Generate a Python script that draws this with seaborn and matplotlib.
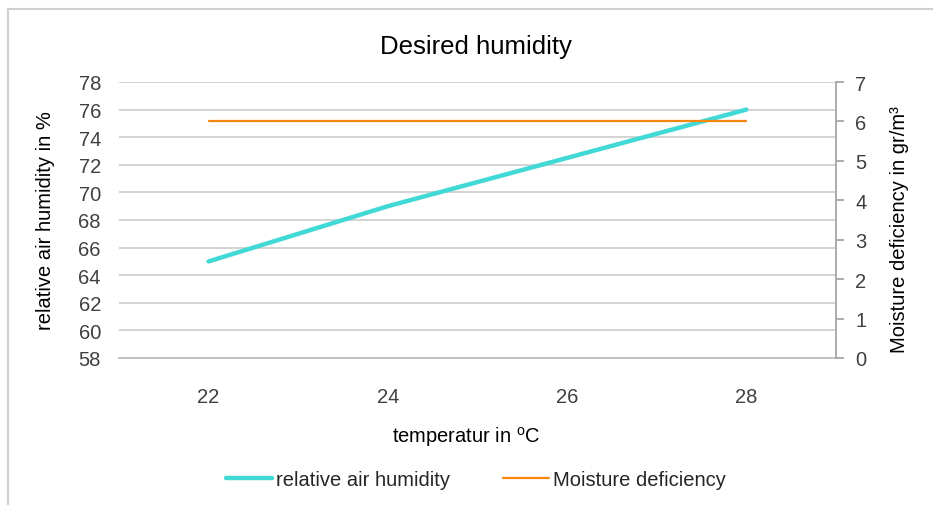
import pandas as pd
import matplotlib.pyplot as plt
import seaborn as sns
from matplotlib.patches import Rectangle
from matplotlib.lines import Line2D

# values
temperature = [22, 24, 26, 28]
humidity = [65, 69, 72.5, 76]
deficiency = [6, 6, 6, 6]
hum_ticks = list(range(58, 80, 2))
def_ticks = list(range(0, 8))

teal = '#40D9D6'
orange = '#F7860F'
grid_grey = '#D0D0D0'
text_grey = '#404040'
fs = 14.5

sns.set_theme(style='white')
plt.rcParams['font.family'] = ['Liberation Sans', 'DejaVu Sans']
plt.rcParams['mathtext.fontset'] = 'custom'
plt.rcParams['mathtext.rm'] = 'Liberation Sans'
plt.rcParams['mathtext.it'] = 'Liberation Sans:italic'

df = pd.DataFrame({'pos': range(len(temperature)),
                   'temperature': temperature,
                   'humidity': humidity,
                   'deficiency': deficiency})

fig = plt.figure(figsize=(9.33, 5.06), dpi=100)
ax = fig.add_axes([119/933, 1 - 359/506, 717/933, 276/506])
ax2 = ax.twinx()

sns.lineplot(data=df, x='pos', y='humidity', ax=ax, color=teal, linewidth=3.2,
             solid_capstyle='round')
sns.lineplot(data=df, x='pos', y='deficiency', ax=ax2, color=orange, linewidth=1.6)

# left axis
ax.set_ylim(58, 78)
ax.set_yticks(hum_ticks)
ax.tick_params(axis='y', length=0, pad=13, labelsize=fs, labelcolor=text_grey)
ax.yaxis.grid(True, color=grid_grey, linewidth=1.3)
ax.set_ylabel('relative air humidity in %', fontsize=fs, color='black')
ax.yaxis.set_label_coords(-0.089, 0.5)

# category axis with ticks between categories
ax.set_xlim(-0.5, len(temperature) - 0.5)
ax.set_xticks(range(len(temperature)))
ax.set_xticklabels([str(t) for t in temperature])
ax.set_xticks([i - 0.5 for i in range(len(temperature) + 1)], minor=True)
ax.tick_params(axis='x', which='major', length=0, pad=21, labelsize=fs, labelcolor=text_grey)
ax.tick_params(axis='x', which='minor', length=5, width=1.3, color='#BFBFBF', direction='out')
ax.set_xlabel(r'temperatur in $^{\mathrm{o}}$C', fontsize=fs, color='black')
ax.xaxis.set_label_coords(0.484, -0.24)

# right axis
ax2.set_ylim(0, 7)
ax2.set_yticks(def_ticks)
ax2.tick_params(axis='y', length=6, width=1.3, color='#A6A6A6', direction='out',
                pad=8, labelsize=fs, labelcolor=text_grey)
ax2.set_ylabel('Moisture deficiency in gr/m³', fontsize=fs, color='black')
ax2.yaxis.set_label_coords(1.076, 0.47)
ax2.grid(False)

for a in (ax, ax2):
    for side in ('top', 'left', 'right', 'bottom'):
        a.spines[side].set_visible(False)
ax.spines['bottom'].set_visible(True)
ax.spines['bottom'].set_color('#BFBFBF')
ax.spines['bottom'].set_linewidth(1.3)
ax2.spines['right'].set_visible(True)
ax2.spines['right'].set_color('#A6A6A6')
ax2.spines['right'].set_linewidth(1.3)

fig.suptitle('Desired humidity', x=476/933, y=1 - 47/506, va='center',
             fontsize=18.5, color='black')

handles = [Line2D([], [], color=teal, linewidth=3.2),
           Line2D([], [], color=orange, linewidth=1.6)]
fig.legend(handles, ['relative air humidity', 'Moisture deficiency'], ncol=2,
           loc='center', bbox_to_anchor=(476/933, 1 - 481/506), frameon=False,
           fontsize=fs, handlelength=2.3, handletextpad=0.2, columnspacing=2.6)

# chart frame
fig.patches.append(Rectangle((8/933, -0.1), 1.2, 1.1 - 10/506, transform=fig.transFigure,
                             fill=False, edgecolor='#D0D0D0', linewidth=1.5))

fig.savefig('out.png', dpi=100)
